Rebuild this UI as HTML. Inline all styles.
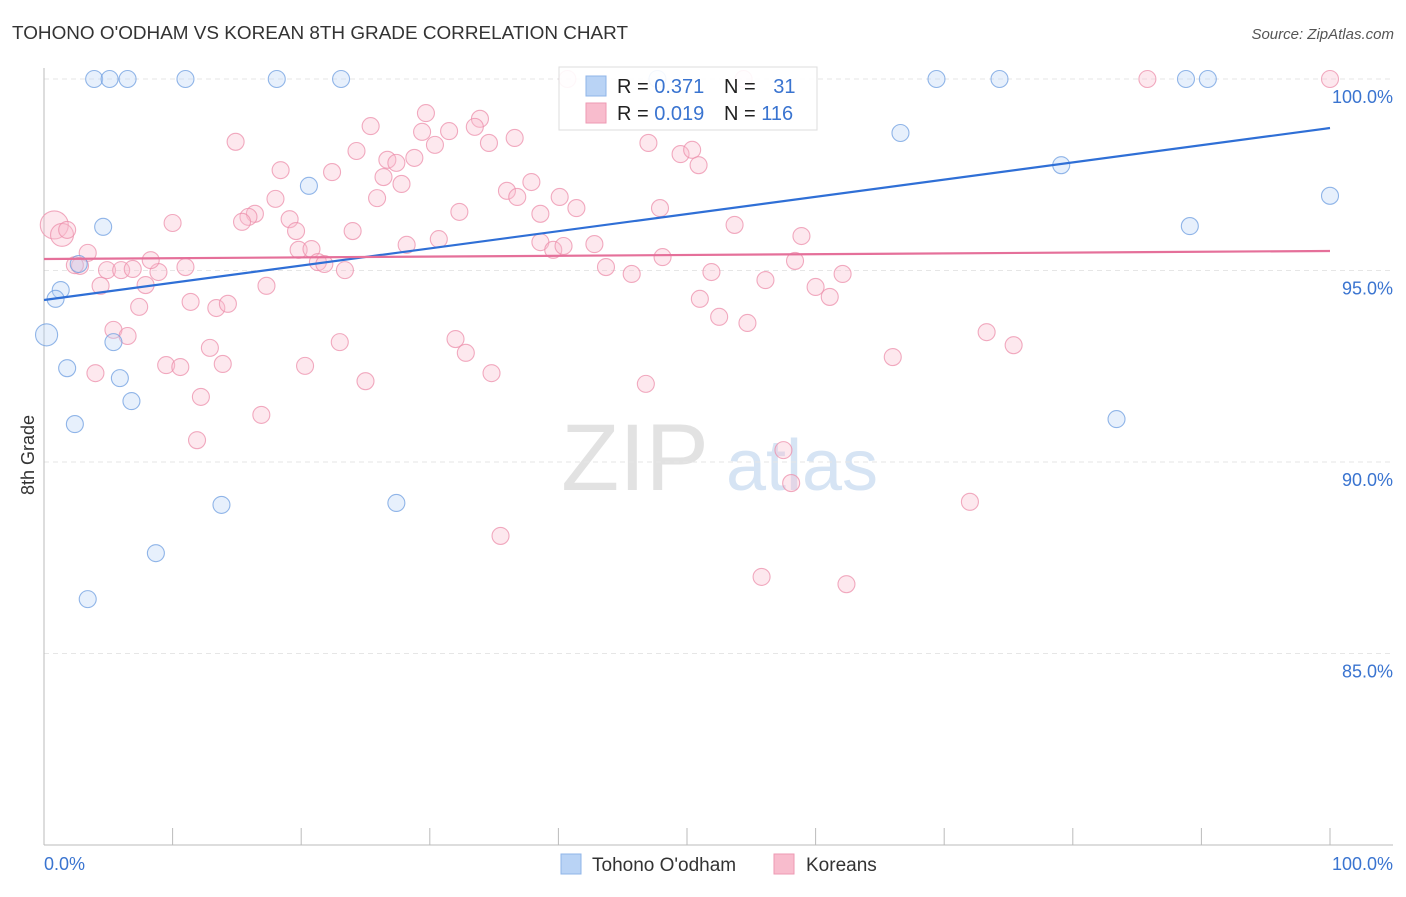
<!DOCTYPE html>
<html><head><meta charset="utf-8">
<style>
body{margin:0;background:#fff;font-family:"Liberation Sans",sans-serif;}
svg text{font-family:"Liberation Sans",sans-serif;}
</style></head>
<body>
<svg id="chart" width="1406" height="892" xmlns="http://www.w3.org/2000/svg">
<text x="12" y="39" font-size="18" fill="#333" textLength="616" lengthAdjust="spacingAndGlyphs">TOHONO O'ODHAM VS KOREAN 8TH GRADE CORRELATION CHART</text>
<text x="1394" y="39" font-size="15" fill="#555" font-style="italic" text-anchor="end">Source: ZipAtlas.com</text>
<g>
<text x="635" y="490" font-size="95" fill="#e2e2e2" font-family="Liberation Serif" text-anchor="middle">ZIP</text>
<text x="802" y="490" font-size="72" fill="#d6e4f4" text-anchor="middle">atlas</text>
</g>
<g id="grid"></g>
<g id="axes"></g>
<text transform="translate(34,455) rotate(-90)" font-size="18" fill="#333" text-anchor="middle">8th Grade</text>
<g id="pink"></g>
<g id="blue"></g>
<g id="trends"></g>
<g>
<rect x="559" y="67" width="258" height="63" fill="#fff" fill-opacity="0.9" stroke="#ddd"/>
<rect x="586" y="76" width="20" height="20" fill="#b9d3f5" stroke="#8fb4e8"/>
<rect x="586" y="103" width="20" height="20" fill="#f8bccd" stroke="#ee9ab3"/>
<text x="617" y="93" font-size="20" fill="#222">R = <tspan fill="#3a74d0">0.371</tspan></text>
<text x="724" y="93" font-size="20" fill="#222">N = <tspan fill="#3a74d0" dx="12">31</tspan></text>
<text x="617" y="120" font-size="20" fill="#222">R = <tspan fill="#3a74d0">0.019</tspan></text>
<text x="724" y="120" font-size="20" fill="#222">N = <tspan fill="#3a74d0">116</tspan></text>
</g>
<g>
<rect x="561" y="854" width="20" height="20" fill="#b9d3f5" stroke="#8fb4e8"/>
<text x="592" y="871" font-size="19" fill="#333">Tohono O'odham</text>
<rect x="774" y="854" width="20" height="20" fill="#f8bccd" stroke="#ee9ab3"/>
<text x="806" y="871" font-size="19" fill="#333">Koreans</text>
</g>
</svg>
<script>
const yTicks=[100,95,90,85];
const yTickLabels=["100.0%","95.0%","90.0%","85.0%"];
const xTickLabels=["0.0%","100.0%"];
const blueX=[3.9,5.1,6.5,11.0,18.1,23.1,47.7,69.4,74.3,88.8,90.5,66.6,79.1,20.6,100,4.6,89.1,1.3,0.9,2.7,0.2,5.4,1.8,5.9,6.8,2.4,83.4,13.8,27.4,8.7,3.4];
const blueY=[100,100,100,100,100,100,100,100,100,100,100,98.59,97.75,97.21,96.95,96.14,96.16,94.49,94.26,95.17,93.32,93.13,92.45,92.19,91.59,90.99,91.12,88.88,88.93,87.62,86.42];
const blueW=[1,1,1,1,1,1,1,1,1,1,1,1,1,1,1,1,1,1,1,1,1.3,1,1,1,1,1,1,1,1,1,1];
const pinkX=[40.7,54.4,85.8,100,14.9,25.4,29.7,33.9,33.5,29.4,31.5,36.6,30.4,34.6,24.3,47.0,49.5,50.4,50.9,26.7,27.4,28.8,18.4,22.4,26.4,27.8,36.0,37.9,36.8,25.9,40.1,18.0,16.4,15.9,15.4,19.1,32.3,38.6,41.4,47.9,10.0,19.6,24.0,53.7,58.9,0.8,1.4,1.8,3.4,19.8,20.8,28.2,30.7,38.6,39.6,40.4,42.8,2.8,2.4,4.9,6.0,6.9,8.9,8.3,11.0,21.3,21.8,23.4,43.7,45.7,48.1,51.9,58.4,62.1,4.4,7.9,17.3,56.1,60.0,11.4,7.4,13.4,14.3,51.0,61.1,52.5,54.7,5.4,6.5,12.9,23.0,32.0,32.8,73.3,75.4,66.0,9.5,10.6,13.9,20.3,4.0,25.0,34.8,46.8,12.2,16.9,11.9,57.5,58.1,72.0,35.5,55.8,62.4];
const pinkY=[100,100,100,100,98.36,98.77,99.11,98.96,98.75,98.62,98.64,98.46,98.28,98.33,98.12,98.33,98.04,98.15,97.75,97.89,97.81,97.94,97.62,97.57,97.44,97.26,97.08,97.31,96.92,96.89,96.92,96.87,96.48,96.40,96.27,96.34,96.53,96.48,96.63,96.63,96.24,96.03,96.03,96.19,95.90,96.19,95.93,96.06,95.46,95.54,95.56,95.67,95.82,95.74,95.54,95.64,95.69,95.12,95.14,95.01,95.01,95.04,94.96,95.27,95.09,95.22,95.17,95.01,95.09,94.91,95.35,94.96,95.25,94.91,94.60,94.62,94.60,94.75,94.57,94.18,94.05,94.02,94.13,94.26,94.31,93.79,93.63,93.45,93.29,92.98,93.13,93.21,92.85,93.39,93.05,92.74,92.53,92.48,92.56,92.51,92.32,92.11,92.32,92.04,91.70,91.23,90.57,90.31,89.45,88.96,88.07,87.00,86.81];
const pinkW=[1,1,1,1,1,1,1,1,1,1,1,1,1,1,1,1,1,1,1,1,1,1,1,1,1,1,1,1,1,1,1,1,1,1,1,1,1,1,1,1,1,1,1,1,1,1.65,1.35,1,1,1,1,1,1,1,1,1,1,1,1,1,1,1,1,1,1,1,1,1,1,1,1,1,1,1,1,1,1,1,1,1,1,1,1,1,1,1,1,1,1,1,1,1,1,1,1,1,1,1,1,1,1,1,1,1,1,1,1,1,1,1,1,1,1];
const blueTrend=[[0,94.23],[100,98.72]];
const pinkTrend=[[0,95.30],[100,95.51]];

const NS="http://www.w3.org/2000/svg";
const X0=44,X1=1330,YTOP=79,PX5=191.5;
const xs=v=>X0+(X1-X0)*v/100;
const ys=v=>YTOP+(100-v)*PX5/5;
function mk(tag,attrs,parent){const e=document.createElementNS(NS,tag);for(const k in attrs)e.setAttribute(k,attrs[k]);parent.appendChild(e);return e;}
const grid=document.getElementById('grid'),axes=document.getElementById('axes');
yTicks.forEach((t,i)=>{
  const l=mk('line',{x1:X0,x2:1393,y1:ys(t),y2:ys(t),stroke:'#e6e6e6','stroke-dasharray':'5,4'},grid);
  
  
  const tx=mk('text',{x:1393,y:ys(t)+24,'font-size':18,fill:'#3a74d0','text-anchor':'end'},axes);
  tx.textContent=yTickLabels[i];
  
  
});
const ya=mk('line',{x1:X0,x2:X0,y1:68,y2:845,stroke:'#bbb'},axes);


const xa=mk('line',{x1:X0,x2:1393,y1:845,y2:845,stroke:'#bbb'},axes);


for(let i=0;i<=10;i++){const t=mk('line',{x1:xs(i*10),x2:xs(i*10),y1:828,y2:845,stroke:'#bbb'},axes);
  
  }
[[0,'start',44],[100,'end',1393]].forEach((d,i)=>{const t=mk('text',{x:d[2],y:870,'font-size':18,fill:'#3a74d0','text-anchor':d[1]},axes);t.textContent=xTickLabels[i];
  
  });
function pts(X,Y,W,g,fill,stroke,name){
  X.forEach((x,i)=>{const c=mk('circle',{cx:xs(x),cy:ys(Y[i]),r:8.5*W[i],fill:fill,'fill-opacity':0.35,stroke:stroke,'stroke-opacity':0.75,'stroke-width':1.1},g);
    
    });
}
pts(pinkX,pinkY,pinkW,document.getElementById('pink'),'#f8bccd','#ec8fab','korean-point');
pts(blueX,blueY,blueW,document.getElementById('blue'),'#b9d3f5','#6d9ee0','tohono-point');
const tr=document.getElementById('trends');
const bl=mk('line',{x1:xs(blueTrend[0][0]),y1:ys(blueTrend[0][1]),x2:xs(blueTrend[1][0]),y2:ys(blueTrend[1][1]),stroke:'#2f6fd6','stroke-width':2.2},tr);


const pl=mk('line',{x1:xs(pinkTrend[0][0]),y1:ys(pinkTrend[0][1]),x2:xs(pinkTrend[1][0]),y2:ys(pinkTrend[1][1]),stroke:'#e5709a','stroke-width':2.2},tr);


</script>
</body></html>
